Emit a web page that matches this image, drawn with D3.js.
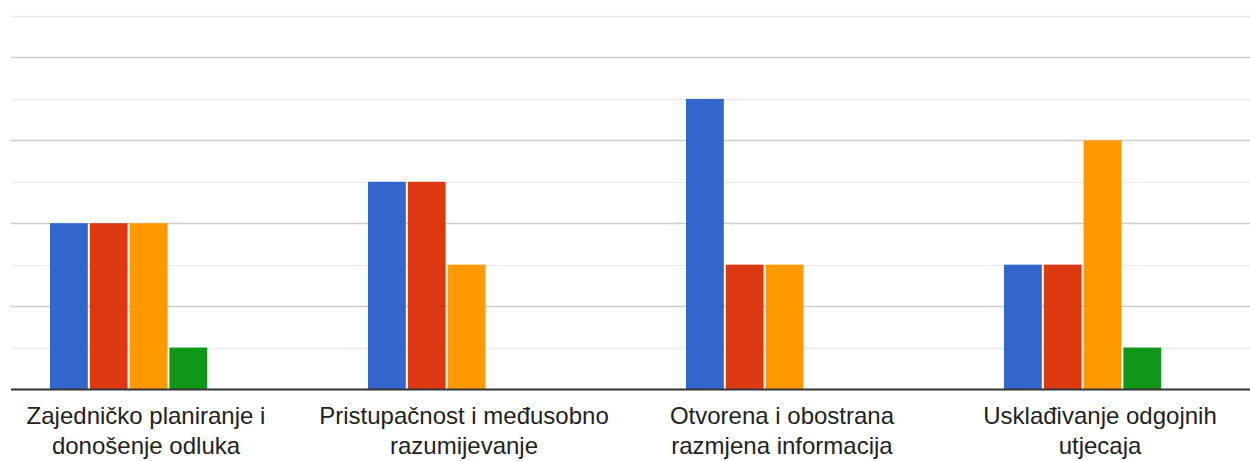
<!DOCTYPE html>
<html>
<head>
<meta charset="utf-8">
<script src="https://cdn.jsdelivr.net/npm/d3@7"></script>
<style>
  html, body { margin: 0; padding: 0; background: #fff; }
  svg { display: block; }
</style>
</head>
<body>
<svg id="chart" width="1250" height="461"></svg>
<script>
// Data
const categories = [
    ["Zajedničko planiranje i", "donošenje odluka"],
    ["Pristupačnost i međusobno", "razumijevanje"],
    ["Otvorena i obostrana", "razmjena informacija"],
    ["Usklađivanje odgojnih", "utjecaja"]
];
const seriesNames = ["s1", "s2", "s3", "s4", "s5"];
const seriesColors = ["#3366cc", "#dc3912", "#ff9900", "#109618", "#990099"];
const values = [
    [4, 4, 4, 1, 0],
    [5, 5, 3, 0, 0],
    [7, 3, 3, 0, 0],
    [3, 3, 6, 1, 0]
];
const yTicks = [0, 1, 2, 3, 4, 5, 6, 7, 8, 9];

const svg = d3.select("#chart");
const plotLeft = 11, plotRight = 1250;
const baseY = 389, topY = 16;

const y = d3.scaleLinear().domain([0, 9]).range([baseY, topY]);
const x0 = d3.scaleBand().domain(d3.range(categories.length)).range([-12, 1260]);
const x1 = d3.scaleBand().domain(d3.range(seriesNames.length))
    .range([x0.bandwidth() / 2 - 97, x0.bandwidth() / 2 + 100])
    .paddingInner(0.05);

// Gridlines: even values darker, odd lighter
svg.append("g").selectAll("line")
    .data(yTicks.filter(d => d > 0))
    .enter().append("line")
    .attr("x1", plotLeft).attr("x2", plotRight)
    .attr("y1", d => Math.round(y(d)) + 0.5)
    .attr("y2", d => Math.round(y(d)) + 0.5)
    .style("stroke", d => d % 2 === 0 ? "#cccccc" : "#ebebeb")
    .style("stroke-width", 1.5);

// Bars
const groups = svg.append("g").selectAll("g")
    .data(values)
    .enter().append("g")
    .attr("transform", (d, i) => `translate(${x0(i)},0)`);

groups.selectAll("rect")
    .data(d => d.map((v, j) => ({ v, j })).filter(e => e.v > 0))
    .enter().append("rect")
    .attr("x", d => x1(d.j))
    .attr("y", d => y(d.v))
    .attr("width", x1.bandwidth())
    .attr("height", d => baseY - y(d.v))
    .style("fill", d => seriesColors[d.j]);

// Baseline
svg.append("line")
    .attr("x1", plotLeft).attr("x2", plotRight)
    .attr("y1", baseY + 0.5).attr("y2", baseY + 0.5)
    .style("stroke", "#333333")
    .style("stroke-width", 2);

// Category labels
const labels = svg.append("g").selectAll("text")
    .data(categories)
    .enter().append("text")
    .attr("x", (d, i) => x0(i) + x0.bandwidth() / 2 - 1)
    .attr("y", 424)
    .attr("text-anchor", "middle")
    .style("font-family", "Arial, 'Liberation Sans', sans-serif")
    .style("font-size", "24px")
    .style("fill", "#222222");

labels.selectAll("tspan")
    .data(d => d)
    .enter().append("tspan")
    .attr("x", function () { return d3.select(this.parentNode).attr("x"); })
    .attr("dy", (d, i) => i === 0 ? 0 : 30)
    .text(d => d);
</script>
</body>
</html>
